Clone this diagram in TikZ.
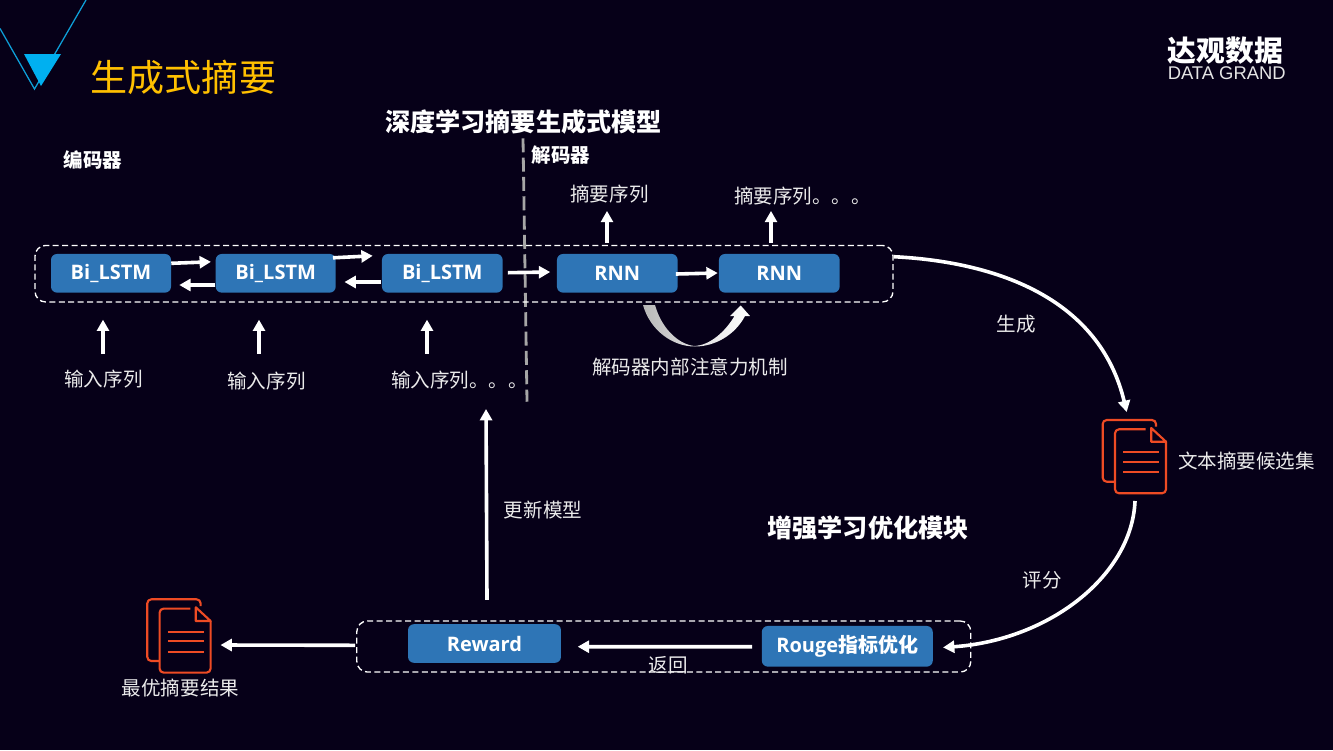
\documentclass[tikz,border=0pt]{standalone}
\usepackage{fontspec}
\setmainfont{Noto Sans CJK SC}
\newfontfamily\latinlogo{Liberation Sans}
\newfontfamily\latinbox{Open Sans}
\usetikzlibrary{arrows.meta,calc}
\definecolor{bgc}{HTML}{060018}
\definecolor{boxc}{HTML}{2E75B6}
\definecolor{docc}{HTML}{EE4B24}
\definecolor{cyanc}{HTML}{00B0F0}
\definecolor{linec}{HTML}{0E9FD8}
\definecolor{titlec}{HTML}{FFC000}
\definecolor{sepc}{HTML}{A6A6A6}
\newcommand{\fs}[1]{\fontsize{#1}{#1}\selectfont}
\tikzset{
  x=0.75pt,y=-0.75pt,
  blockbox/.style={fill=boxc,rounded corners=4.5pt,inner sep=0pt,text=white,font=\fs{15}\bfseries,minimum height=29pt},
  frame/.style={draw=white,line width=1pt,dash pattern=on 4.5pt off 2.6pt,rounded corners=8pt,inner sep=0pt},
  flow/.style={draw=white,line width=2.7pt,-{Triangle[length=8.5pt,width=9pt]}},
  lab/.style={text=white!92!black,font=\fs{14.65},inner sep=0pt},
  head/.style={text=white,font=\fs{14.6}\bfseries,inner sep=0pt},
  bighead/.style={text=white,font=\fs{18.85}\bfseries,inner sep=0pt},
  docs/.pic={
    \draw[docc,line width=1.6pt,line join=round,rounded corners=3pt]
      (53.3,6.7) -- (53.3,0) -- (0,0) -- (0,61.7) -- (12.3,61.7);
    \draw[docc,line width=1.6pt,line join=round,rounded corners=3pt]
      (43,9.3) -- (12.3,9.3) -- (12.3,73.3) -- (63.3,73.3) -- (63.3,21.7);
    \draw[docc,line width=1.6pt,line join=round]
      (63.3,21.7) -- (48.5,8) -- (48.5,21.7) -- cycle;
    \draw[docc,line width=1.6pt] (20.6,32.3) -- (56.3,32.3) (20.6,42) -- (56.3,42) (20.6,52.3) -- (56.3,52.3);
  }
}
\begin{document}
\begin{tikzpicture}
\useasboundingbox[fill=bgc] (0,0) rectangle (1333,750);
% decoration
\draw[linec,line width=0.95pt] (0,28.5) -- (34.5,89) -- (86,0);
\fill[cyanc] (24,54) -- (61,54) -- (41,86) -- cycle;
\node[anchor=west,text=titlec,font=\fs{27.8},inner sep=0pt] (title) at (90.5,77) {生成式摘要};
\node[anchor=west,text=white,font=\fs{21.6}\bfseries,inner sep=0pt] (logo) at (1167.5,50.5) {达观数据};
\node[anchor=west,text=white!90!black,font=\latinlogo\fs{13.8},inner sep=0pt] (logoen) at (1167.5,73.5) {DATA GRAND};
% separator
\node[inner sep=0pt,minimum size=0pt] (septop) at (523,138) {};
\node[inner sep=0pt,minimum size=0pt] (sepbot) at (527,402) {};
\draw[sepc,line width=2.1pt,dash pattern=on 10.5pt off 4pt] (septop) -- (sepbot);
% frames
\node[frame,minimum width=643.5pt,minimum height=42.4pt] (frameA) at (464,273.7) {};
\node[frame,minimum width=460.5pt,minimum height=38.3pt] (frameB) at (663.8,646.5) {};
% headings
\node[bighead] (h1) at (523.5,122) {深度学习摘要生成式模型};
\node[bighead] (h2) at (868,528) {增强学习优化模块};
\node[head] (enc) at (93,160) {编码器};
\node[head] (dec) at (561,155) {解码器};
% blocks
\node[blockbox,minimum width=90pt] (b1) at (111,273.3) {\latinbox Bi\_LSTM};
\node[blockbox,minimum width=90pt] (b2) at (275.7,273.3) {\latinbox Bi\_LSTM};
\node[blockbox,minimum width=90.5pt] (b3) at (442.3,273.3) {\latinbox Bi\_LSTM};
\node[blockbox,minimum width=90.5pt] (r1) at (617.3,273.3) {\latinbox RNN};
\node[blockbox,minimum width=90.5pt] (r2) at (779.3,273.3) {\latinbox RNN};
\node[blockbox,minimum width=114.7pt] (rew) at (484.5,643.5) {\latinbox Reward};
\node[blockbox,minimum width=128.2pt,minimum height=30.5pt] (rou) at (847.3,646.3) {{\latinbox Rouge}指标优化};
% labels
\node[lab] (in1) at (103.5,379) {输入序列};
\node[lab] (in2) at (266.5,381) {输入序列};
\node[lab,anchor=west] (in3) at (391,380) {输入序列。。。};
\node[lab] (out1) at (609.5,194) {摘要序列};
\node[lab,anchor=west] (out2) at (734,196) {摘要序列。。。};
\node[lab] (att) at (690,367) {解码器内部注意力机制};
\node[lab] (gen) at (1016,324) {生成};
\node[lab] (sco) at (1042,580) {评分};
\node[lab] (upd) at (543,510) {更新模型};
\node[lab] (ret) at (668,665) {返回};
\node[lab,anchor=west] (cand) at (1178,461) {文本摘要候选集};
\node[lab] (best) at (180.5,688) {最优摘要结果};
% doc icons
\pic at (1102.7,420) {docs};
\pic at (147.3,599.3) {docs};
\coordinate (docA) at (1126.7,412);
\coordinate (docAb) at (1135,501);
\coordinate (docB) at (220.5,645);
\coordinate (updtip) at (486,409);
% block arrows
\draw[flow] ([shift={(0,-10)}]b1.east) -- ([shift={(-4.5,-11.5)}]b2.west);
\draw[flow] ([shift={(-3,-15.5)}]b2.east) -- ([shift={(-9,-17.5)}]b3.west);
\draw[flow] ([shift={(0,11.7)}]b2.west) -- ([shift={(8,11.7)}]b1.east);
\draw[flow] ([shift={(-1,8.7)}]b3.west) -- ([shift={(8.5,8.7)}]b2.east);
\draw[flow] ([shift={(5,-0.6)}]b3.east) -- ([shift={(-6.5,-1.3)}]r1.west);
\draw[flow] ([shift={(-2,0.7)}]r1.east) -- ([shift={(-1,-0.3)}]r2.west);
% input / output arrows
\draw[flow] ([shift={(-0.5,-16)}]in1.north) -- ([shift={(-0.5,-50)}]in1.north);
\draw[flow] ([shift={(-7.5,-18)}]in2.north) -- ([shift={(-7.5,-52)}]in2.north);
\draw[flow] ([shift={(36,-17)}]in3.north west) -- ([shift={(36,-51)}]in3.north west);
\draw[flow] ([shift={(-10.3,-10.8)}]r1.north) -- ([shift={(-10.3,-42.8)}]r1.north);
\draw[flow] ([shift={(-8.3,-10.8)}]r2.north) -- ([shift={(-8.3,-42.8)}]r2.north);
% attention curved arrow
\shade[left color=black!28!white,right color=white,middle color=black!12!white]
  (643,305) .. controls (650,330) and (672,346.5) .. (695,346.5)
  .. controls (715,346.5) and (735,335) .. (745,316) -- (750,316) -- (740.7,305.5) -- (730,316) -- (734.5,316)
  .. controls (725,332) and (710,345) .. (695,346)
  .. controls (680,345) and (662,330) .. (655,305) -- cycle;
% long curves
\draw[flow] ([shift={(0,-17)}]frameA.east) .. controls (1000,262) and (1100,300) .. (docA);
\draw[flow] (docAb) .. controls (1132,575) and (1050,640) .. ([shift={(10,1.2)}]rou.east);
\draw[flow] ([shift={(2.5,-24)}]rew.north) -- (updtip);
\draw[flow] ([shift={(-1,-1.2)}]frameB.west) -- (docB);
\draw[flow] ([shift={(-9.5,0.4)}]rou.west) -- ([shift={(16.5,3.2)}]rew.east);
\end{tikzpicture}
\end{document}
